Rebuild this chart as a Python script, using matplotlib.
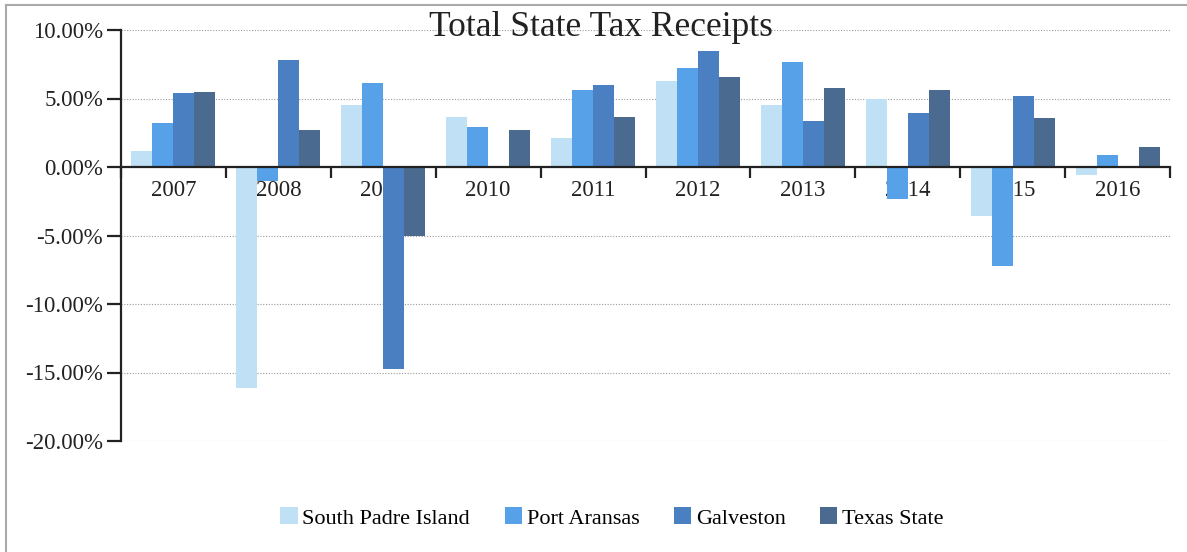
"""
Total State Tax Receipts: year-over-year change by area, 2007-2016.
"""
import matplotlib

matplotlib.use("Agg")

import matplotlib.pyplot as plt
import numpy as np
from matplotlib.lines import Line2D
from matplotlib.ticker import FuncFormatter

years = ["2007", "2008", "2009", "2010", "2011",
         "2012", "2013", "2014", "2015", "2016"]

south_padre = [1.2, -16.1, 4.5, 3.65, 2.1, 6.25, 4.55, 5.0, -3.6, -0.6]
port_aransas = [3.2, -1.0, 6.15, 2.9, 5.65, 7.2, 7.65, -2.3, -7.2, 0.87]
galveston = [5.4, 7.8, -14.75, 0.0, 5.95, 8.5, 3.35, 3.95, 5.2, 0.0]
texas_state = [5.5, 2.7, -5.0, 2.7, 3.65, 6.6, 5.75, 5.6, 3.6, 1.45]

series_names = ["South Padre Island", "Port Aransas", "Galveston", "Texas State"]
colors = ["#bfe0f5", "#56a1e8", "#4a80c2", "#4b6a8f"]

serif = ["Liberation Serif", "DejaVu Serif"]

fig = plt.figure(figsize=(11.87, 5.52), dpi=100)
ax = fig.add_axes([121 / 1187, 1 - 441 / 552, 1049 / 1187, 411 / 552])

x = np.arange(len(years))
width = 0.2
all_series = [south_padre, port_aransas, galveston, texas_state]
for i, (vals, name, col) in enumerate(zip(all_series, series_names, colors)):
    ax.bar(x + (i - 1.5) * width, vals, width, color=col, label=name, zorder=2)

ax.set_xlim(-0.5, len(years) - 0.5)
ax.set_ylim(-20, 10)
ax.set_yticks(np.arange(-20, 10.1, 5))
ax.yaxis.set_major_formatter(FuncFormatter(lambda v, pos: f"{v:.2f}%"))
ax.grid(axis="y", linestyle=(0, (1, 1.5)), color="#999999", linewidth=0.8)
ax.set_axisbelow(True)

# x axis sits at zero, labels centred in each group, ticks at group edges
ax.spines["bottom"].set_position(("data", 0))
ax.spines["top"].set_visible(False)
ax.spines["right"].set_visible(False)
for side in ("bottom", "left"):
    ax.spines[side].set_linewidth(1.6)
    ax.spines[side].set_color("#222222")

ax.set_xticks(np.arange(-0.5, len(years), 1.0))
ax.set_xticklabels([])
ax.set_xticks(x, minor=True)
ax.set_xticklabels(years, minor=True)
ax.tick_params(axis="x", which="major", direction="out", length=8,
               width=1.6, color="#222222")
ax.tick_params(axis="x", which="minor", length=0, pad=9)
ax.tick_params(axis="y", direction="out", length=10, width=1.6,
               color="#222222", pad=3)

for lbl in ax.get_xticklabels(minor=True) + ax.get_yticklabels():
    lbl.set_fontfamily(serif)
    lbl.set_fontsize(16.5)
    lbl.set_color("#222222")

fig.text(601 / 1187, 1 - 27 / 552, "Total State Tax Receipts",
         ha="center", va="center", fontsize=25.5, family=serif,
         color="#222222")

fig.legend(loc="center", bbox_to_anchor=(612 / 1187, 1 - 518 / 552),
           ncol=4, frameon=False, handlelength=0.77, handleheight=0.77,
           handletextpad=0.22, columnspacing=1.55,
           prop={"family": serif, "size": 16})

# faint frame along the top and left edges
fig.add_artist(Line2D([6 / 1187, 6 / 1187], [0, 1 - 5 / 552],
                      color="#aaaaaa", linewidth=1.5))
fig.add_artist(Line2D([6 / 1187, 1], [1 - 5 / 552, 1 - 5 / 552],
                      color="#aaaaaa", linewidth=1.5))

fig.savefig("out.png", dpi=100)
